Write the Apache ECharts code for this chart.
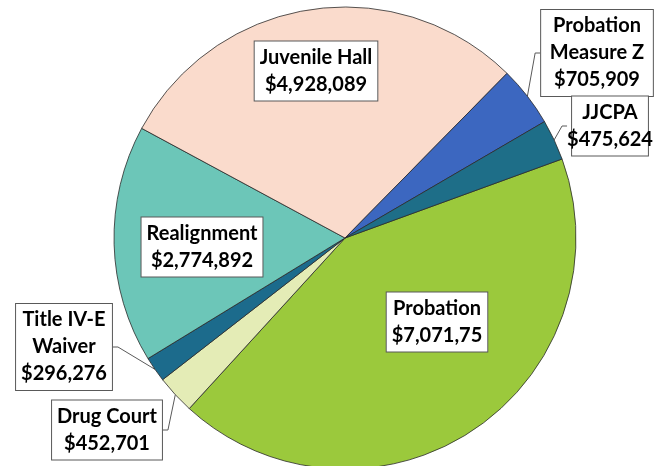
<!DOCTYPE html>
<html>
<head>
<meta charset="utf-8">
<script src="https://cdn.jsdelivr.net/npm/echarts@6/dist/echarts.min.js"></script>
<style>
html, body { margin: 0; padding: 0; background: #fff; }
#pie { width: 667px; height: 466px; }
</style>
</head>
<body>
<div id="pie"></div>
<script>
// slices in clockwise order, starting from the Probation edge
var names = ['Probation', 'Drug Court', 'Title IV-E\nWaiver', 'Realignment', 'Juvenile Hall', 'Probation\nMeasure Z', 'JJCPA'];
var values = [7071750, 452701, 296276, 2774892, 4928089, 705909, 475624];
var shown = ['$7,071,75', '$452,701', '$296,276', '$2,774,892', '$4,928,089', '$705,909', '$475,624'];
var colors = ['#9bc93c', '#e4ecb6', '#1c6b8c', '#6cc6b8', '#fadbcc', '#3c67c0', '#1e6e88'];
var inside = [true, false, false, true, true, false, false];

// label box centres (layout only)
var labelPos = [[437, 322], [107, 430], [64, 347], [202, 247], [316, 71], [597, 53], [610, 126]];

var pie = echarts.init(document.getElementById('pie'));

var data = [];
for (var i = 0; i < names.length; i++) {
    data.push({
        name: names[i],
        value: values[i],
        itemStyle: { color: colors[i] },
        label: { position: inside[i] ? 'inside' : 'outside' },
        labelLine: { show: !inside[i] }
    });
}

option = {
    animation: false,
    series: [{
        type: 'pie',
        center: [345, 238],
        radius: 231,
        startAngle: 20,
        clockwise: true,
        data: data,
        itemStyle: {
            borderColor: '#2b2b2b',
            borderWidth: 0.8
        },
        label: {
            show: true,
            formatter: function(p) {
                return p.name + '\n' + shown[p.dataIndex];
            },
            color: '#000',
            fontFamily: 'Lato',
            fontWeight: 'bold',
            fontSize: 20,
            lineHeight: 27,
            align: 'center',
            overflow: 'none',
            backgroundColor: '#fff',
            borderColor: '#595959',
            borderWidth: 1,
            padding: [3, 5, 2, 5]
        },
        labelLine: {
            length: 10,
            length2: 5,
            lineStyle: { color: '#595959', width: 1 }
        },
        labelLayout: function(p) {
            var pos = labelPos[p.dataIndex];
            return {
                x: pos[0],
                y: pos[1],
                align: 'center',
                verticalAlign: 'middle'
            };
        }
    }]
};
pie.setOption(option);
</script>
</body>
</html>
